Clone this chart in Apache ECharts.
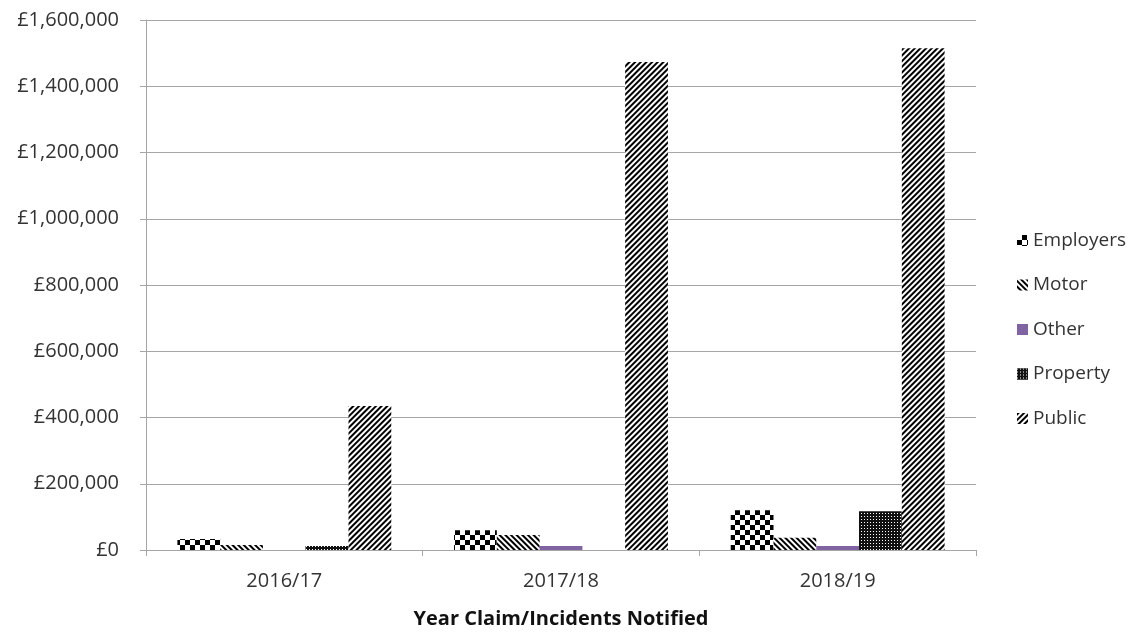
<!DOCTYPE html>
<html>
<head>
<meta charset="utf-8">
<script src="https://cdn.jsdelivr.net/npm/echarts@6/dist/echarts.min.js"></script>
<style>
  html, body { margin: 0; padding: 0; background: #fff; }
  #chart { width: 1147px; height: 632px; }
</style>
</head>
<body>
<div id="chart"></div>
<script>
const years = ['2016/17', '2017/18', '2018/19'];
const employers = [33000, 60000, 120000];
const motor = [15000, 45000, 37000];
const other = [0, 12000, 12000];
const property = [12000, 0, 116000];
const publicClaims = [435000, 1473000, 1515000];

const chart = echarts.init(document.getElementById('chart'));

const fontFamily = '"Open Sans", "Noto Sans", sans-serif';

// hatch fills, roughly like the office-style patterns
const checker = {
  symbol: 'rect', symbolSize: 1, color: '#000', backgroundColor: '#fff',
  dashArrayX: [[5, 5], [0, 5, 5, 0]], dashArrayY: [5, 0], rotation: 0
};
const backSlash = {
  symbol: 'rect', symbolSize: 1, color: '#000', backgroundColor: '#fff',
  dashArrayX: [1, 0], dashArrayY: [1.6, 1.6], rotation: Math.PI / 4
};
const forwardSlash = {
  symbol: 'rect', symbolSize: 1, color: '#000', backgroundColor: '#fff',
  dashArrayX: [1, 0], dashArrayY: [1.6, 1.4], rotation: -Math.PI / 4
};
const dots = {
  symbol: 'rect', symbolSize: 1, color: '#fff', backgroundColor: '#111',
  dashArrayX: [1, 2], dashArrayY: [1, 2], rotation: 0
};

function series(name, data, style) {
  return {
    name: name,
    type: 'bar',
    data: data,
    barGap: '0%',
    barCategoryGap: '22.7%',
    itemStyle: style
  };
}

chart.setOption({
  backgroundColor: '#fff',
  animation: false,
  textStyle: { fontFamily: fontFamily },
  grid: { left: 146, right: 171, top: 20, bottom: 82, outerBoundsMode: 'none', containLabel: false },
  legend: {
    orient: 'vertical',
    left: 1012,
    top: 226,
    itemGap: 25.5,
    itemWidth: 11,
    itemHeight: 11,
    icon: 'rect',
    textStyle: { fontSize: 19, color: '#333', fontFamily: fontFamily },
    data: ['Employers', 'Motor', 'Other', 'Property', 'Public']
  },
  xAxis: {
    type: 'category',
    data: years,
    name: 'Year Claim/Incidents Notified',
    nameLocation: 'middle',
    nameGap: 59,
    nameTextStyle: { fontSize: 20, fontWeight: 'bold', color: '#111', fontFamily: fontFamily },
    axisLine: { lineStyle: { color: '#a6a6a6', width: 1 } },
    axisTick: { show: true, length: 6, lineStyle: { color: '#a6a6a6' } },
    axisLabel: { fontSize: 20, color: '#333', margin: 21 }
  },
  yAxis: {
    type: 'value',
    min: 0,
    max: 1600000,
    interval: 200000,
    axisLine: { show: true, lineStyle: { color: '#a6a6a6', width: 1 } },
    axisTick: { show: true, length: 6, lineStyle: { color: '#a6a6a6' } },
    splitLine: { lineStyle: { color: '#a6a6a6', width: 1 } },
    axisLabel: {
      fontSize: 20,
      color: '#333',
      margin: 27,
      formatter: v => '£' + v.toLocaleString('en-GB')
    }
  },
  series: [
    series('Employers', employers, { color: '#fff', decal: checker }),
    series('Motor', motor, { color: '#fff', decal: backSlash }),
    series('Other', other, { color: '#8064a2' }),
    series('Property', property, { color: '#111', decal: dots }),
    series('Public', publicClaims, { color: '#fff', decal: forwardSlash })
  ]
});
</script>
</body>
</html>
